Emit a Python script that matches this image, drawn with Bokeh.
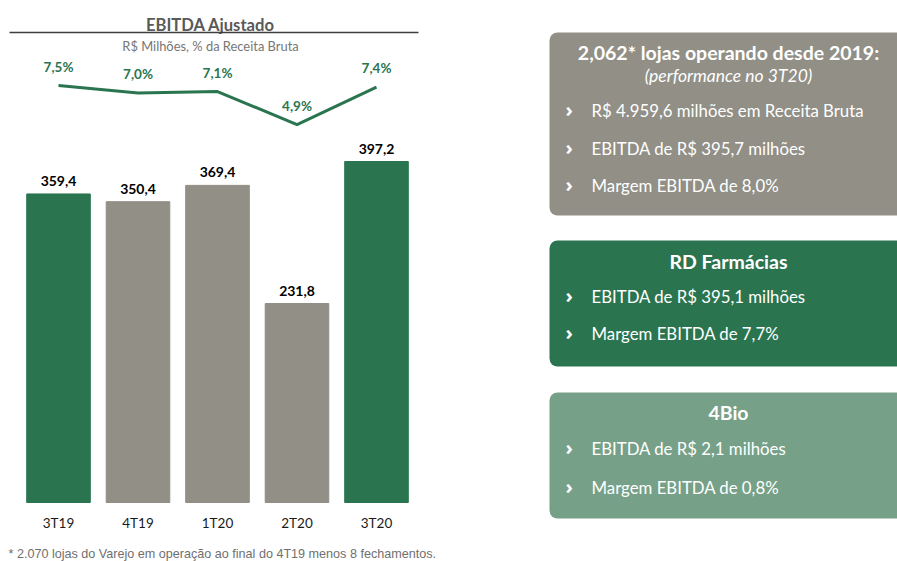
from bokeh.plotting import figure
from bokeh.models import Range1d, Label, BoxAnnotation
from bokeh.layouts import row
from bokeh.core.properties import value
from bokeh.embed import file_html
from bokeh.resources import INLINE

# ---- data ----
quarters = ["3T19", "4T19", "1T20", "2T20", "3T20"]
ebitda = [359.4, 350.4, 369.4, 231.8, 397.2]
margin_pct = [7.5, 7.0, 7.1, 4.9, 7.4]
highlight = [True, False, False, False, True]

panel1_title = "2,062* lojas operando desde 2019:"
panel1_sub = "(performance no 3T20)"
panel1_items = ["R$ 4.959,6 milhões em Receita Bruta", "EBITDA de R$ 395,7 milhões", "Margem EBITDA de 8,0%"]
panel2_title = "RD Farmácias"
panel2_items = ["EBITDA de R$ 395,1  milhões", "Margem EBITDA de 7,7%"]
panel3_title = "4Bio"
panel3_items = ["EBITDA de R$ 2,1 milhões", "Margem EBITDA de 0,8%"]
footnote = "* 2.070 lojas do Varejo em operação ao final do 4T19 menos 8 fechamentos."

# ---- styles ----
GREEN = "#2A7550"
GRAY = "#918F86"
LIGHT_GREEN = "#76A188"
FONT = "Lato"
W_LEFT, W_RIGHT, H = 458, 439, 561

def fmt(v, suffix=""):
    return f"{v:.1f}".replace(".", ",") + suffix

bar_colors = [GREEN if h else GRAY for h in highlight]
xpos = list(range(len(quarters)))

# ---- left chart (frame covers the whole figure) ----
p = figure(width=W_LEFT, height=H, x_range=Range1d(-0.7296, 5.0314),
           y_range=Range1d(-68.72, 584.74), output_backend="svg", toolbar_location=None,
           x_axis_location=None, y_axis_location=None, min_border=0)
p.extra_y_ranges = {"pct": Range1d(-24.23, 13.17)}
p.outline_line_color = None
p.xgrid.visible = False
p.ygrid.visible = False

p.vbar(x=xpos, top=ebitda, width=0.8, color=bar_colors)
p.text(x=xpos, y=ebitda, text=[fmt(v) for v in ebitda], y_offset=-8,
       text_align="center", text_baseline="bottom", text_font=value(FONT),
       text_font_style="bold", text_font_size="14px", text_color="#000000")
# category labels under the bars
p.text(x=xpos, y=[0] * len(quarters), text=quarters, y_offset=20,
       text_align="center", text_baseline="middle", text_font=value(FONT),
       text_font_size="13.5px", text_color="#1a1a1a")

p.line(x=xpos, y=margin_pct, y_range_name="pct", line_width=3, line_color=GREEN)
p.text(x=xpos, y=margin_pct, y_range_name="pct", text=[fmt(v, "%") for v in margin_pct],
       y_offset=-19, text_align="center", text_baseline="middle", text_font=value(FONT),
       text_font_style="bold", text_font_size="13.5px", text_color=GREEN)

p.add_layout(Label(x=210, y=H - 24, x_units="screen", y_units="screen", text="EBITDA Ajustado",
                   text_align="center", text_baseline="middle", text_font=FONT,
                   text_font_style="bold", text_font_size="16.6px", text_color="#595959"))
p.add_layout(BoxAnnotation(left=9, right=418, bottom=H - 32.7, top=H - 31.2, left_units="screen",
                           right_units="screen", bottom_units="screen", top_units="screen",
                           fill_color="#3f3f3f", fill_alpha=1, line_color=None))
p.add_layout(Label(x=210, y=H - 45, x_units="screen", y_units="screen",
                   text="R$ Milhões, % da Receita Bruta", text_align="center",
                   text_baseline="middle", text_font=FONT, text_font_size="12.9px",
                   text_color="#767676"))
p.add_layout(Label(x=8, y=1, x_units="screen", y_units="screen", text=footnote,
                   text_align="left", text_baseline="bottom", text_font="Liberation Sans",
                   text_font_size="12.6px", text_color="#6f6f6f"))

# ---- right panels (data space = page pixels) ----
q = figure(width=W_RIGHT, height=H, x_range=Range1d(W_LEFT, W_LEFT + W_RIGHT),
           y_range=Range1d(H, 0), output_backend="svg", toolbar_location=None,
           x_axis_location=None, y_axis_location=None, min_border=0)
q.outline_line_color = None
q.xgrid.visible = False
q.ygrid.visible = False

panel_tops = [32, 240, 392]
panel_bottoms = [215, 366, 518]
panel_colors = [GRAY, GREEN, LIGHT_GREEN]
q.quad(left=[549] * 3, right=[915] * 3, top=panel_tops, bottom=panel_bottoms,
       fill_color=panel_colors, line_color=None, border_radius=8)

texts = [
    (panel1_title, 52, [panel1_sub], panel1_items, [110, 148, 185]),
    (panel2_title, 261, [], panel2_items, [296, 333]),
    (panel3_title, 412, [], panel3_items, [448, 487]),
]
for title, ty, subs, items, iys in texts:
    q.add_layout(Label(x=728, y=ty, text=title, text_align="center", text_baseline="middle",
                       text_font=FONT, text_font_style="bold", text_font_size="19.5px",
                       text_color="white"))
    for s in subs:
        q.add_layout(Label(x=728, y=ty + 23, text=s, text_align="center", text_baseline="middle",
                           text_font=FONT, text_font_style="italic", text_font_size="17.5px",
                           text_color="white"))
    for it, iy in zip(items, iys):
        q.add_layout(Label(x=565, y=iy - 1, text="›", text_align="left", text_baseline="middle",
                           text_font="Open Sans", text_font_style="bold", text_font_size="20px",
                           text_color="white"))
        q.add_layout(Label(x=591, y=iy, text=it, text_align="left", text_baseline="middle",
                           text_font=FONT, text_font_size="16.8px", text_color="white"))

layout = row(p, q, spacing=0)
open("out.html", "w").write(file_html(layout, INLINE))
